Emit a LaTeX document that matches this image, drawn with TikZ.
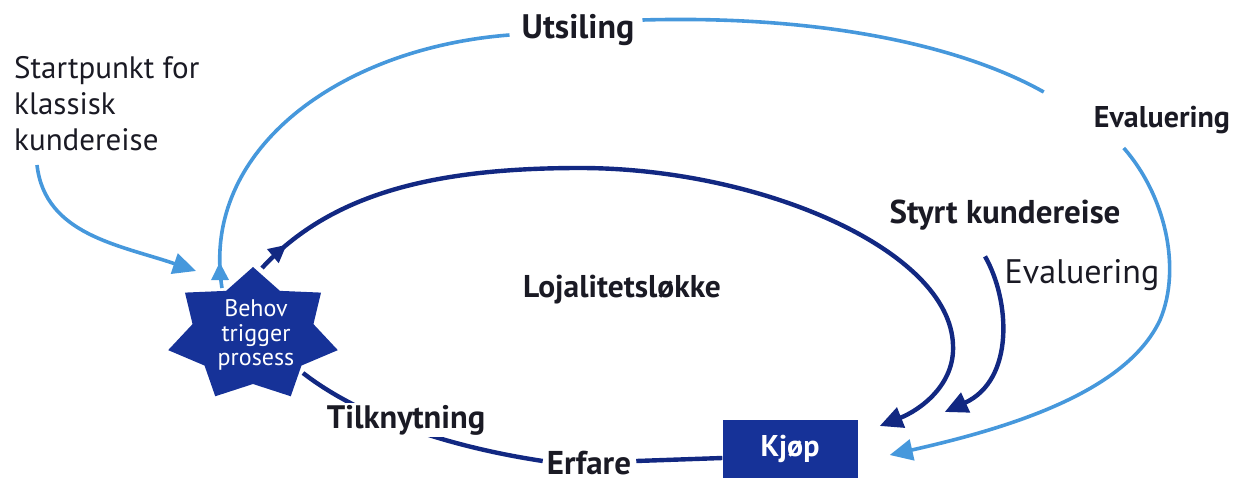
\documentclass[tikz,border=0pt]{standalone}
\usepackage{fontspec}
\setmainfont{PT Sans}
\usetikzlibrary{arrows.meta,shapes.geometric,decorations.markings,calc}
\definecolor{navyfill}{RGB}{22,50,152}
\definecolor{navy}{RGB}{18,40,130}
\definecolor{sky}{RGB}{70,152,220}
\definecolor{ink}{RGB}{26,26,36}

\begin{document}
\begin{tikzpicture}[x=1pt,y=-1pt,
  lbl/.style={text=ink,font=\fontsize{#1}{36}\selectfont,inner sep=0pt},
  lbl/.default=31,
  blbl/.style={text=ink,font=\fontsize{#1}{36}\selectfont\bfseries,inner sep=0pt},
  blbl/.default=32,
  skyline/.style={draw=sky,line width=3.6pt},
  navyline/.style={draw=navy,line width=4.4pt},
  bigtip/.style={-{Triangle[length=23pt,width=21pt]}},
  midtip/.style={postaction={decorate},decoration={markings,
      mark=at position #1 with {\arrow{Triangle[length=18pt,width=17pt]}}}},
]
\useasboundingbox (0,0) rectangle (1242,482);

% seven-pointed star behind the trigger text
\fill[navyfill,shift={(253,335)}] (-90:87 and 68)
  \foreach \k in {0,...,6}{
    -- ({-90+\k*51.4286+25.7143}:62 and 49)
    -- ({-90+(\k+1)*51.4286}:87 and 68)
  } -- cycle;
\node[ellipse,minimum width=150pt,minimum height=110pt,inner sep=0pt,
      text=white,align=center,font=\fontsize{24}{24.5}\selectfont] (behov) at (256,335)
  {Behov\\trigger\\prosess};

% purchase box
\node[fill=navyfill,minimum width=135pt,minimum height=58pt,inner sep=0pt,
      text=white,font=\fontsize{30}{36}\selectfont\bfseries] (kjop) at (790,449) {Kjøp};

% labels
\node[lbl=31,align=left,anchor=north west] (start) at (14,56)
  {Startpunkt for\\klassisk\\kundereise};
\node[blbl=34] (utsiling) at (578,30) {Utsiling};
\node[blbl=30] (evalA) at (1162,120) {Evaluering};
\node[blbl=33] (styrt) at (1005,215) {Styrt kundereise};
\node[lbl=34] (evalB) at (1082,275) {Evaluering};
\node[blbl=31.5] (lojal) at (622,290) {Lojalitetsløkke};
\node[blbl=33] (erfare) at (589,463) {Erfare};

\coordinate (s0) at (37,165);

% classic journey: entry arrow and the outer loop
\draw[skyline,bigtip] (s0) .. controls (45,235) and (120,245)
  .. ($(behov.center)+(-60,-64)$);
\draw[skyline,midtip=26pt] ($(behov.center)+(-34,-47)$)
  .. controls (200,150) and (340,48) .. ($(utsiling.west)+(-12,5)$);
\draw[skyline] ($(utsiling.east)+(8,-10)$) .. controls (820,15) and (960,45)
  .. ($(evalA.west)+(-50,-28)$);
\draw[skyline,bigtip] ($(evalA.west)+(30,28)$) .. controls (1165,195) and (1182,268)
  .. (1160,320) .. controls (1125,395) and (1000,430) .. ($(kjop.east)+(32,6)$);

% loyalty loop
\draw[navyline,midtip=34pt,bigtip] ($(behov.center)+(6,-67)$)
  .. controls (330,195) and (430,168) .. (580,168)
  .. controls (760,168) and (950,250) .. (953,345)
  .. controls (955,385) and (920,410) .. ($(kjop.east)+(22,-23)$);

% steered journey
\draw[navyline,bigtip] ($(styrt.south)+(-20,26)$)
  .. controls (1010,300) and (1015,380) .. ($(kjop.east)+(87,-37)$);

% experience back to the trigger
\draw[navyline] ($(behov.center)+(47,38)$) .. controls (370,425) and (470,450)
  .. ($(erfare.west)+(-4,-2)$);
\draw[navyline] ($(erfare.east)+(5,-2)$) -- ($(kjop.west)+(0,9)$);

% the attachment label sits on the line it interrupts
\node[blbl=32.5,fill=white,inner sep=2pt] (tilk) at (406,420) {Tilknytning};
\end{tikzpicture}
\end{document}
